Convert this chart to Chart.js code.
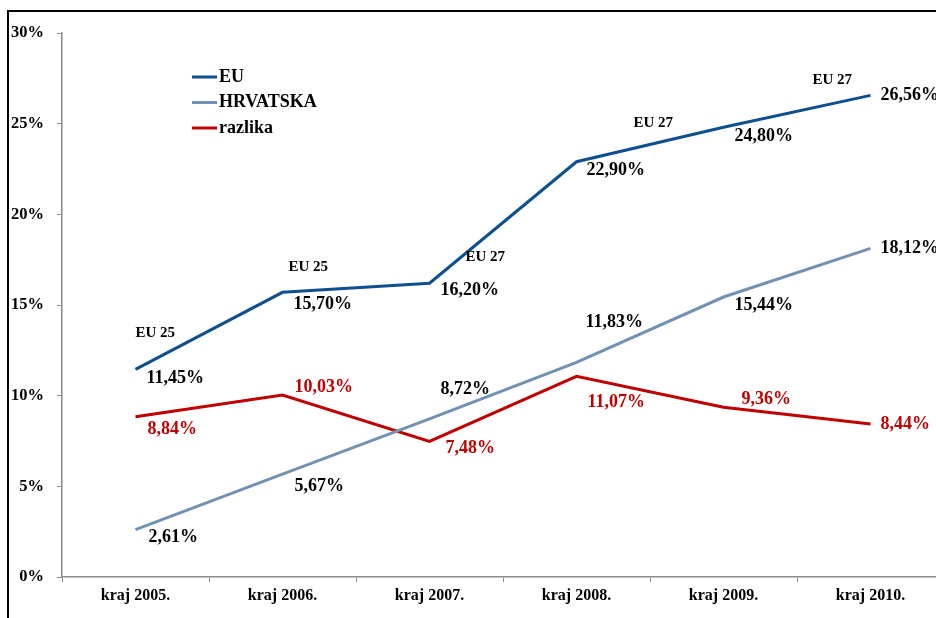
<!DOCTYPE html>
<html>
<head>
<meta charset="utf-8">
<script src="https://cdn.jsdelivr.net/npm/chart.js@4"></script>
<style>
    html, body { margin: 0; padding: 0; background: #fff; }
    #wrap { position: relative; width: 936px; height: 618px; overflow: hidden; }
    #frame { position: absolute; left: 7px; top: 10px; width: 1000px; height: 1000px; border: 2px solid #000; box-sizing: border-box; }
    #chart { position: absolute; left: 0; top: 0; }
</style>
</head>
<body>
<div id="wrap">
    <div id="frame"></div>
    <canvas id="chart" width="944" height="618"></canvas>
</div>
<script>
// data
const categories = ['kraj 2005.', 'kraj 2006.', 'kraj 2007.', 'kraj 2008.', 'kraj 2009.', 'kraj 2010.'];
const euValues = [11.45, 15.70, 16.20, 22.90, 24.80, 26.56];
const hrValues = [2.61, 5.67, 8.72, 11.83, 15.44, 18.12];
const diffValues = [8.84, 10.03, 7.48, 11.07, 9.36, 8.44];
const euNotes = ['EU 25', 'EU 25', 'EU 27', 'EU 27', 'EU 27', null];
const yTicks = [0, 5, 10, 15, 20, 25, 30];

const serif = '"Liberation Serif", "Times New Roman", serif';

// label placement relative to each point (left edge, vertical middle)
const labelOffsets = [
    [[11, 9], [11, 12], [11, 7], [10, 9], [11, 9], [10, 0]],
    [[13, 8], [12, 12], [11, -30], [9, -40], [11, 8], [10, 0]],
    [[12, 13], [12, -8], [16, 7], [11, 26], [18, -8], [10, 0]]
];
const noteOffsets = [[0, -36], [6, -25], [36, -26], [57, -39], [89, -47], [0, 0]];

const valueLabels = {
    id: 'valueLabels',
    afterDatasetsDraw(chart) {
        const ctx = chart.ctx;
        ctx.save();
        ctx.textAlign = 'left';
        ctx.textBaseline = 'middle';
        chart.data.datasets.forEach((ds, di) => {
            const meta = chart.getDatasetMeta(di);
            meta.data.forEach((pt, i) => {
                const off = labelOffsets[di][i];
                ctx.font = 'bold 18px ' + serif;
                ctx.fillStyle = ds.labelColor;
                const txt = ds.data[i].toFixed(2).replace('.', ',') + '%';
                ctx.fillText(txt, pt.x + off[0], pt.y + off[1]);
            });
        });
        // EU 25 / EU 27 notes
        const euMeta = chart.getDatasetMeta(0);
        ctx.font = 'bold 15px ' + serif;
        ctx.fillStyle = '#000';
        euMeta.data.forEach((pt, i) => {
            if (!euNotes[i]) return;
            ctx.fillText(euNotes[i], pt.x + noteOffsets[i][0], pt.y + noteOffsets[i][1]);
        });
        ctx.restore();
    }
};

const customLegend = {
    id: 'customLegend',
    afterDraw(chart) {
        const ctx = chart.ctx;
        ctx.save();
        ctx.font = 'bold 18px ' + serif;
        ctx.textBaseline = 'middle';
        ctx.textAlign = 'left';
        chart.data.datasets.forEach((ds, i) => {
            const y = 77 + i * 25.5;
            ctx.strokeStyle = ds.borderColor;
            ctx.lineWidth = 3;
            ctx.beginPath();
            ctx.moveTo(192, y);
            ctx.lineTo(217, y);
            ctx.stroke();
            ctx.fillStyle = '#000';
            ctx.fillText(ds.label, 219, y);
        });
        ctx.restore();
    }
};

const ctx = document.getElementById('chart').getContext('2d');
const chart = new Chart(ctx, {
    type: 'line',
    data: {
        labels: categories,
        datasets: [{
            label: 'EU',
            data: euValues,
            borderColor: '#0e4f92',
            labelColor: '#000',
            borderWidth: 3,
            pointRadius: 0,
            tension: 0
        }, {
            label: 'HRVATSKA',
            data: hrValues,
            borderColor: '#7192b4',
            labelColor: '#000',
            borderWidth: 3,
            pointRadius: 0,
            tension: 0
        }, {
            label: 'razlika',
            data: diffValues,
            borderColor: '#c00000',
            labelColor: '#c00000',
            borderWidth: 3,
            pointRadius: 0,
            tension: 0
        }]
    },
    options: {
        responsive: false,
        animation: false,
        layout: { padding: { top: 33, right: 0, bottom: 0, left: 0 } },
        plugins: {
            legend: { display: false },
            tooltip: { enabled: false }
        },
        scales: {
            x: {
                offset: true,
                grid: {
                    offset: true,
                    drawOnChartArea: false,
                    drawTicks: true,
                    tickLength: 5,
                    color: '#8c8c8c'
                },
                border: { color: '#8c8c8c', width: 1.5 },
                ticks: {
                    color: '#000',
                    padding: 4,
                    maxRotation: 0,
                    font: { family: serif, size: 16, weight: 'bold' }
                },
                afterFit(scale) { scale.height = 41; }
            },
            y: {
                min: 0,
                max: 30,
                afterBuildTicks(scale) {
                    scale.ticks = yTicks.map(v => ({ value: v }));
                },
                grid: {
                    drawOnChartArea: false,
                    drawTicks: true,
                    tickLength: 5,
                    color: '#8c8c8c'
                },
                border: { color: '#8c8c8c', width: 1.5 },
                ticks: {
                    color: '#000',
                    padding: 13,
                    font: { family: serif, size: 16.5, weight: 'bold' },
                    callback: v => v + '%'
                },
                afterFit(scale) { scale.width = 62; }
            }
        }
    },
    plugins: [valueLabels, customLegend]
});
</script>
</body>
</html>
